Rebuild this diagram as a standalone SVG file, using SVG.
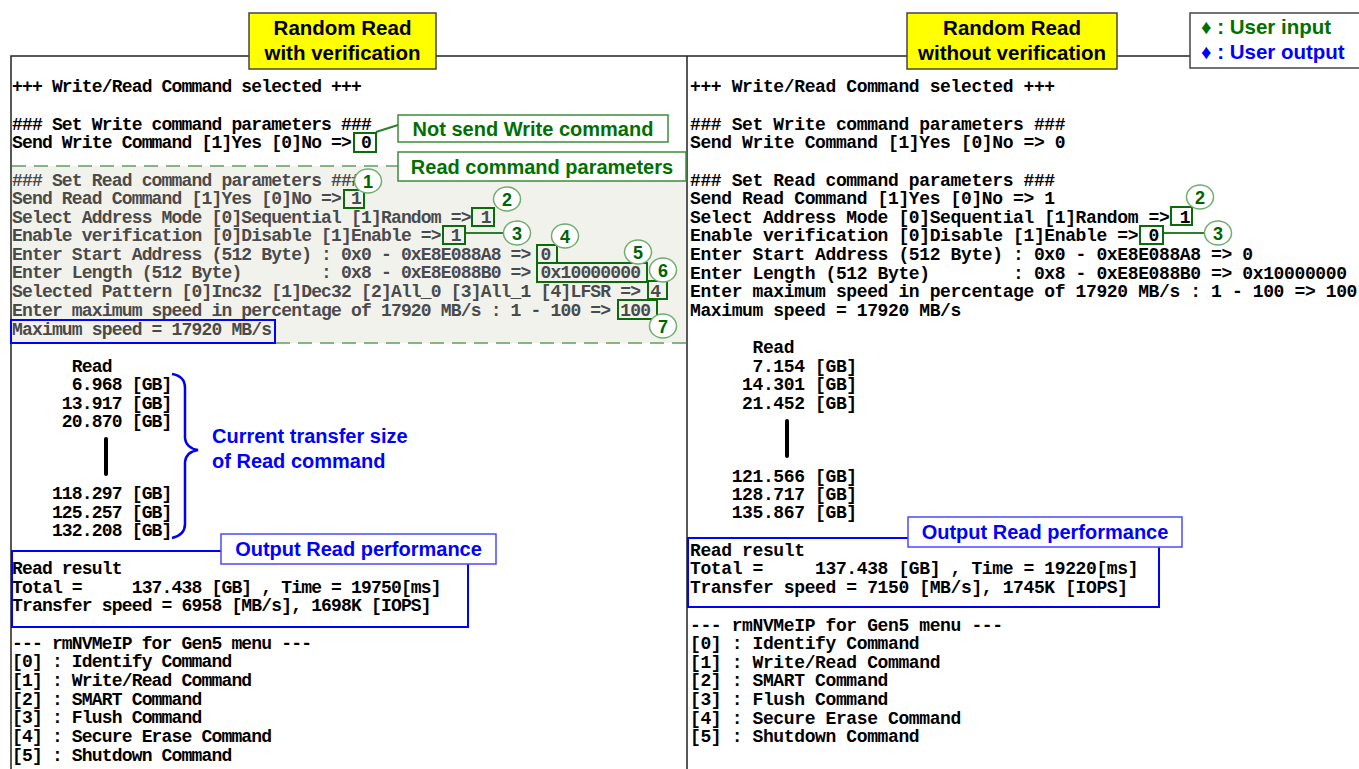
<svg xmlns="http://www.w3.org/2000/svg" width="1359" height="769" viewBox="0 0 1359 769" xml:space="preserve">
<style>
.t{font-family:"Liberation Mono","DejaVu Sans Mono",monospace;font-weight:bold;white-space:pre}
.tl{font-size:18px;letter-spacing:-0.83px;fill:#000}
.tr{font-size:18px;letter-spacing:-0.38px;fill:#000}
.dim{fill:#4a4a4a}
.lab{font-family:"Liberation Sans",Arial,sans-serif;font-weight:bold;font-size:20px}
.ylab{font-family:"Liberation Sans",Arial,sans-serif;font-weight:bold;font-size:20.5px;fill:#000;text-anchor:middle}
.g{fill:#007000}
.b{fill:#0000ff}
.ybox{fill:#ffff00;stroke:#444;stroke-width:1.5}
.ibox{fill:none;stroke:#0b6b0b;stroke-width:2}
.gbox{fill:#fff;stroke:#3d8b3d;stroke-width:1.5}
.bbox{fill:#fff;stroke:#4a4aff;stroke-width:1.5}
.obox{fill:none;stroke:#0000ff;stroke-width:2}
.circ{fill:#fff;stroke:#6fae6f;stroke-width:1.5}
.num{font-family:"Liberation Sans",Arial,sans-serif;font-weight:bold;font-size:18px;fill:#006400;text-anchor:middle}
.frame{stroke:#222;stroke-width:1.5;fill:none}
.dash{stroke:#5f9f5f;stroke-width:1.5;stroke-dasharray:14 8;fill:none}
.conn{stroke:#2e7d2e;stroke-width:2;fill:none}
.bar{fill:#000}
</style>
<rect width="1359" height="769" fill="#fff"/>

<!-- frames -->
<g id="frames">
  <path class="frame" d="M11,769 V56 H249 M436,56 H687 M687,56 V769 M687,56 H907 M1117,56 H1190"/>
</g>

<!-- left panel: with verification -->
<g id="left-panel">
  <rect x="12" y="166" width="674" height="177" fill="#f2f2ed"/>
  <path class="dash" d="M12,166 H398 M276,343 H686"/>
  <text class="t tl" x="12" y="92">+++ Write/Read Command selected +++</text>
  <text class="t tl" x="12" y="130">### Set Write command parameters ###</text>
  <text class="t tl" x="12" y="148">Send Write Command [1]Yes [0]No =&gt; 0</text>
  <g class="dim">
    <text class="t tl dim" x="12" y="186">### Set Read command parameters ###</text>
    <text class="t tl dim" x="12" y="204">Send Read Command [1]Yes [0]No =&gt; 1</text>
    <text class="t tl dim" x="12" y="223">Select Address Mode [0]Sequential [1]Random =&gt; 1</text>
    <text class="t tl dim" x="12" y="241">Enable verification [0]Disable [1]Enable =&gt; 1</text>
    <text class="t tl dim" x="12" y="260">Enter Start Address (512 Byte) : 0x0 - 0xE8E088A8 =&gt; 0</text>
    <text class="t tl dim" x="12" y="278">Enter Length (512 Byte)        : 0x8 - 0xE8E088B0 =&gt; 0x10000000</text>
    <text class="t tl dim" x="12" y="297">Selected Pattern [0]Inc32 [1]Dec32 [2]All_0 [3]All_1 [4]LFSR =&gt; 4</text>
    <text class="t tl dim" x="12" y="316">Enter maximum speed in percentage of 17920 MB/s : 1 - 100 =&gt; 100</text>
    <text class="t tl dim" x="12" y="335">Maximum speed = 17920 MB/s</text>
  </g>
  <text class="t tl" x="12" y="372">      Read</text>
  <text class="t tl" x="12" y="390">      6.968 [GB]</text>
  <text class="t tl" x="12" y="409">     13.917 [GB]</text>
  <text class="t tl" x="12" y="427">     20.870 [GB]</text>
  <rect class="bar" x="104" y="437" width="4" height="39" rx="2"/>
  <text class="t tl" x="12" y="499">    118.297 [GB]</text>
  <text class="t tl" x="12" y="518">    125.257 [GB]</text>
  <text class="t tl" x="12" y="536">    132.208 [GB]</text>
  <text class="t tl" x="12" y="574">Read result</text>
  <text class="t tl" x="12" y="593">Total =     137.438 [GB] , Time = 19750[ms]</text>
  <text class="t tl" x="12" y="611">Transfer speed = 6958 [MB/s], 1698K [IOPS]</text>
  <text class="t tl" x="12" y="649">--- rmNVMeIP for Gen5 menu ---</text>
  <text class="t tl" x="12" y="667">[0] : Identify Command</text>
  <text class="t tl" x="12" y="686">[1] : Write/Read Command</text>
  <text class="t tl" x="12" y="705">[2] : SMART Command</text>
  <text class="t tl" x="12" y="723">[3] : Flush Command</text>
  <text class="t tl" x="12" y="742">[4] : Secure Erase Command</text>
  <text class="t tl" x="12" y="761">[5] : Shutdown Command</text>
</g>

<!-- right panel: without verification -->
<g id="right-panel">
  <text class="t tr" x="690" y="92">+++ Write/Read Command selected +++</text>
  <text class="t tr" x="690" y="130">### Set Write command parameters ###</text>
  <text class="t tr" x="690" y="148">Send Write Command [1]Yes [0]No =&gt; 0</text>
  <text class="t tr" x="690" y="186">### Set Read command parameters ###</text>
  <text class="t tr" x="690" y="204">Send Read Command [1]Yes [0]No =&gt; 1</text>
  <text class="t tr" x="690" y="223">Select Address Mode [0]Sequential [1]Random =&gt; 1</text>
  <text class="t tr" x="690" y="241">Enable verification [0]Disable [1]Enable =&gt; 0</text>
  <text class="t tr" x="690" y="260">Enter Start Address (512 Byte) : 0x0 - 0xE8E088A8 =&gt; 0</text>
  <text class="t tr" x="690" y="279">Enter Length (512 Byte)        : 0x8 - 0xE8E088B0 =&gt; 0x10000000</text>
  <text class="t tr" x="690" y="297">Enter maximum speed in percentage of 17920 MB/s : 1 - 100 =&gt; 100</text>
  <text class="t tr" x="690" y="316">Maximum speed = 17920 MB/s</text>
  <text class="t tr" x="690" y="353">      Read</text>
  <text class="t tr" x="690" y="372">      7.154 [GB]</text>
  <text class="t tr" x="690" y="390">     14.301 [GB]</text>
  <text class="t tr" x="690" y="409">     21.452 [GB]</text>
  <rect class="bar" x="785" y="419" width="4" height="39" rx="2"/>
  <text class="t tr" x="690" y="482">    121.566 [GB]</text>
  <text class="t tr" x="690" y="500">    128.717 [GB]</text>
  <text class="t tr" x="690" y="518">    135.867 [GB]</text>
  <text class="t tr" x="690" y="556">Read result</text>
  <text class="t tr" x="690" y="574">Total =     137.438 [GB] , Time = 19220[ms]</text>
  <text class="t tr" x="690" y="593">Transfer speed = 7150 [MB/s], 1745K [IOPS]</text>
  <text class="t tr" x="690" y="631">--- rmNVMeIP for Gen5 menu ---</text>
  <text class="t tr" x="690" y="649">[0] : Identify Command</text>
  <text class="t tr" x="690" y="668">[1] : Write/Read Command</text>
  <text class="t tr" x="690" y="686">[2] : SMART Command</text>
  <text class="t tr" x="690" y="705">[3] : Flush Command</text>
  <text class="t tr" x="690" y="724">[4] : Secure Erase Command</text>
  <text class="t tr" x="690" y="742">[5] : Shutdown Command</text>
</g>

<!-- connectors -->
<g id="connectors">
  <path class="conn" d="M376,132 L398,125"/>
  <path class="conn" d="M465,233 H504"/>
  <path class="conn" d="M1163,233 H1205"/>
  <path d="M172,374 Q185,376 185,388 V438 Q186,448 198,450 Q186,452 185,462 V524 Q185,535 172,538" fill="none" stroke="#0000ee" stroke-width="2.5"/>
</g>

<!-- input highlight boxes -->
<g id="input-boxes-left">
  <rect class="ibox" x="354" y="133" width="22" height="19"/>
  <rect class="ibox" x="344" y="190" width="20" height="18"/>
  <rect class="ibox" x="472" y="208" width="22" height="18"/>
  <rect class="ibox" x="443" y="226" width="22" height="18"/>
  <rect class="ibox" x="537" y="245" width="20" height="18"/>
  <rect class="ibox" x="537" y="263" width="110" height="19"/>
  <rect class="ibox" x="648" y="281" width="19" height="18"/>
  <rect class="ibox" x="618" y="300" width="39" height="19"/>
</g>
<g id="input-boxes-right">
  <rect class="ibox" x="1171" y="207" width="21" height="18"/>
  <rect class="ibox" x="1140" y="226" width="23" height="18"/>
</g>

<!-- output boxes -->
<g id="output-boxes">
  <rect class="obox" x="11" y="320" width="264" height="23"/>
  <rect class="obox" x="12" y="551" width="456" height="76"/>
  <rect class="obox" x="688" y="538" width="471" height="69"/>
</g>

<!-- numbered callouts -->
<g id="callout-1"><ellipse class="circ" cx="368" cy="181" rx="13.5" ry="12"/><text class="num" x="368" y="187.5">1</text></g>
<g id="callout-2"><ellipse class="circ" cx="507" cy="199" rx="13.5" ry="12"/><text class="num" x="507" y="205.5">2</text></g>
<g id="callout-3"><ellipse class="circ" cx="517" cy="233" rx="13.5" ry="12"/><text class="num" x="517" y="239.5">3</text></g>
<g id="callout-4"><ellipse class="circ" cx="565" cy="236" rx="13.5" ry="12"/><text class="num" x="565" y="242.5">4</text></g>
<g id="callout-5"><ellipse class="circ" cx="638" cy="252" rx="13.5" ry="12"/><text class="num" x="638" y="258.5">5</text></g>
<g id="callout-6"><ellipse class="circ" cx="663" cy="270" rx="13.5" ry="12"/><text class="num" x="663" y="276.5">6</text></g>
<g id="callout-7"><ellipse class="circ" cx="663" cy="326" rx="13.5" ry="12"/><text class="num" x="663" y="332.5">7</text></g>
<g id="callout-r2"><ellipse class="circ" cx="1200" cy="197" rx="13.5" ry="12"/><text class="num" x="1200" y="203.5">2</text></g>
<g id="callout-r3"><ellipse class="circ" cx="1218" cy="233" rx="13.5" ry="12"/><text class="num" x="1218" y="239.5">3</text></g>

<!-- labels -->
<g id="title-left">
  <rect class="ybox" x="249" y="13" width="187" height="56"/>
  <text class="ylab" x="342.5" y="35">Random Read</text>
  <text class="ylab" x="342.5" y="60">with verification</text>
</g>
<g id="title-right">
  <rect class="ybox" x="907" y="13" width="210" height="56"/>
  <text class="ylab" x="1012" y="35">Random Read</text>
  <text class="ylab" x="1012" y="60">without verification</text>
</g>
<g id="legend">
  <rect x="1190" y="13" width="175" height="55" fill="#fff" stroke="#444" stroke-width="1.5"/>
  <text class="lab g" x="1201" y="34" style="font-size:20.5px">♦ : User input</text>
  <text class="lab b" x="1201" y="59" style="font-size:20.5px">♦ : User output</text>
</g>
<g id="label-not-send-write">
  <rect class="gbox" x="398" y="115" width="270" height="27"/>
  <text class="lab g" x="533" y="136" text-anchor="middle">Not send Write command</text>
</g>
<g id="label-read-params">
  <rect class="gbox" x="398" y="152" width="288" height="29"/>
  <text class="lab g" x="542" y="174" text-anchor="middle">Read command parameters</text>
</g>
<g id="label-transfer-size">
  <text class="lab b" x="212" y="443">Current transfer size</text>
  <text class="lab b" x="212" y="468">of Read command</text>
</g>
<g id="label-output-left">
  <rect class="bbox" x="221" y="534" width="275" height="30"/>
  <text class="lab b" x="358.5" y="556" text-anchor="middle">Output Read performance</text>
</g>
<g id="label-output-right">
  <rect class="bbox" x="908" y="517" width="274" height="30"/>
  <text class="lab b" x="1045" y="539" text-anchor="middle">Output Read performance</text>
</g>
</svg>
